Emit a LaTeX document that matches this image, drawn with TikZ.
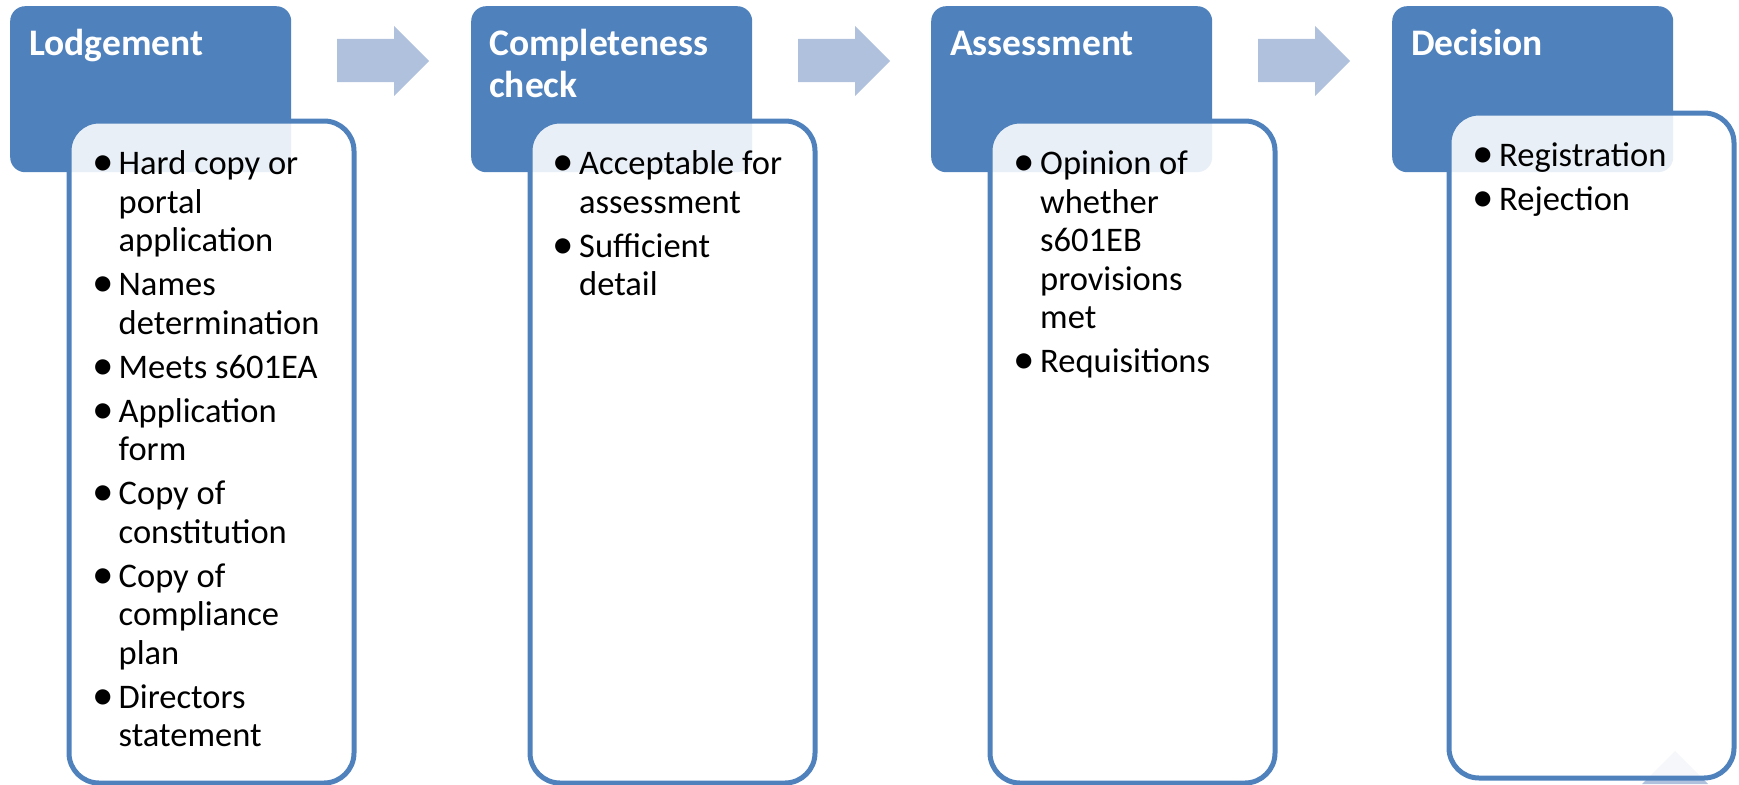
\documentclass[tikz,border=0pt]{standalone}
\usepackage{fontspec}
\setmainfont{Carlito}
\definecolor{hdrblue}{RGB}{79,129,189}
\definecolor{arrblue}{RGB}{176,193,221}
\newcommand\B{\leavevmode\llap{\makebox[0pt][c]{\raisebox{-1pt}{\scalebox{1.25}{\textbullet}}}\hspace{15.5pt}}}
\newcommand\blist[1]{\parbox[t]{300pt}{\raggedright #1}}
\begin{document}
\begin{tikzpicture}[x=1pt,y=-1pt,
  hdr/.style={fill=hdrblue, rounded corners=15pt, minimum width=281pt, minimum height=166pt, anchor=north west, inner sep=0pt},
  body/.style={draw=hdrblue, line width=5pt, fill=white, fill opacity=0.88, rounded corners=30pt, minimum width=285pt, anchor=north west, inner sep=0pt},
  htext/.style={anchor=base west, inner sep=0pt, text=white, font=\fontsize{37.5}{42}\selectfont\bfseries},
  btext/.style={anchor=base west, inner sep=0pt, font=\fontsize{34.5}{38.5}\selectfont},
  arr/.style={fill=arrblue}]
\useasboundingbox (0,0) rectangle (1739,784);
% block arrows
\foreach \x in {10,471,931}{
  \fill[arr] (\x+327,39) -- (\x+384,39) -- (\x+384,26) -- (\x+419,61) -- (\x+384,96) -- (\x+384,82) -- (\x+327,82) -- cycle;
}
% faint triangle behind last box
\fill[arr] (1675,751) -- (1708,784) -- (1642,784) -- cycle;
% headers
\node[hdr] (h1) at (10,6) {};
\node[hdr] (h2) at (471,6) {};
\node[hdr] (h3) at (931,6) {};
\node[hdr] (h4) at (1392,6) {};
% content boxes
\node[body, minimum height=662pt] (b1) at (66.5,118.5) {};
\node[body, minimum height=662pt] (b2) at (527.5,118.5) {};
\node[body, minimum height=662pt] (b3) at (987.5,118.5) {};
\node[body, minimum height=665pt] (b4) at (1446.5,110.5) {};
% header texts
\node[htext] (t1) at (29,56) {Lodgement};
\node[htext] (t2) at (489,56) {\parbox[t]{270pt}{Completeness\\check}};
\node[htext] (t3) at (950,56) {Assessment};
\node[htext] (t4) at (1411,56) {Decision};
% bullet texts
\node[btext] (l1) at (118.5,174.5) {\blist{%
\B Hard copy or\\ portal\\ application\\[5.5pt]
\B Names\\ determination\\[5.5pt]
\B Meets s601EA\\[5.5pt]
\B Application\\ form\\[5.5pt]
\B Copy of\\ constitution\\[5.5pt]
\B Copy of\\ compliance\\ plan\\[5.5pt]
\B Directors\\ statement}};
\node[btext] (l2) at (579,174.5) {\blist{%
\B Acceptable for\\ assessment\\[5.5pt]
\B Sufficient\\ detail}};
\node[btext] (l3) at (1040,174.5) {\blist{%
\B Opinion of\\ whether\\ s601EB\\ provisions\\ met\\[5.5pt]
\B Requisitions}};
\node[btext] (l4) at (1499,166) {\blist{%
\B Registration\\[5.5pt]
\B Rejection}};
\end{tikzpicture}
\end{document}
